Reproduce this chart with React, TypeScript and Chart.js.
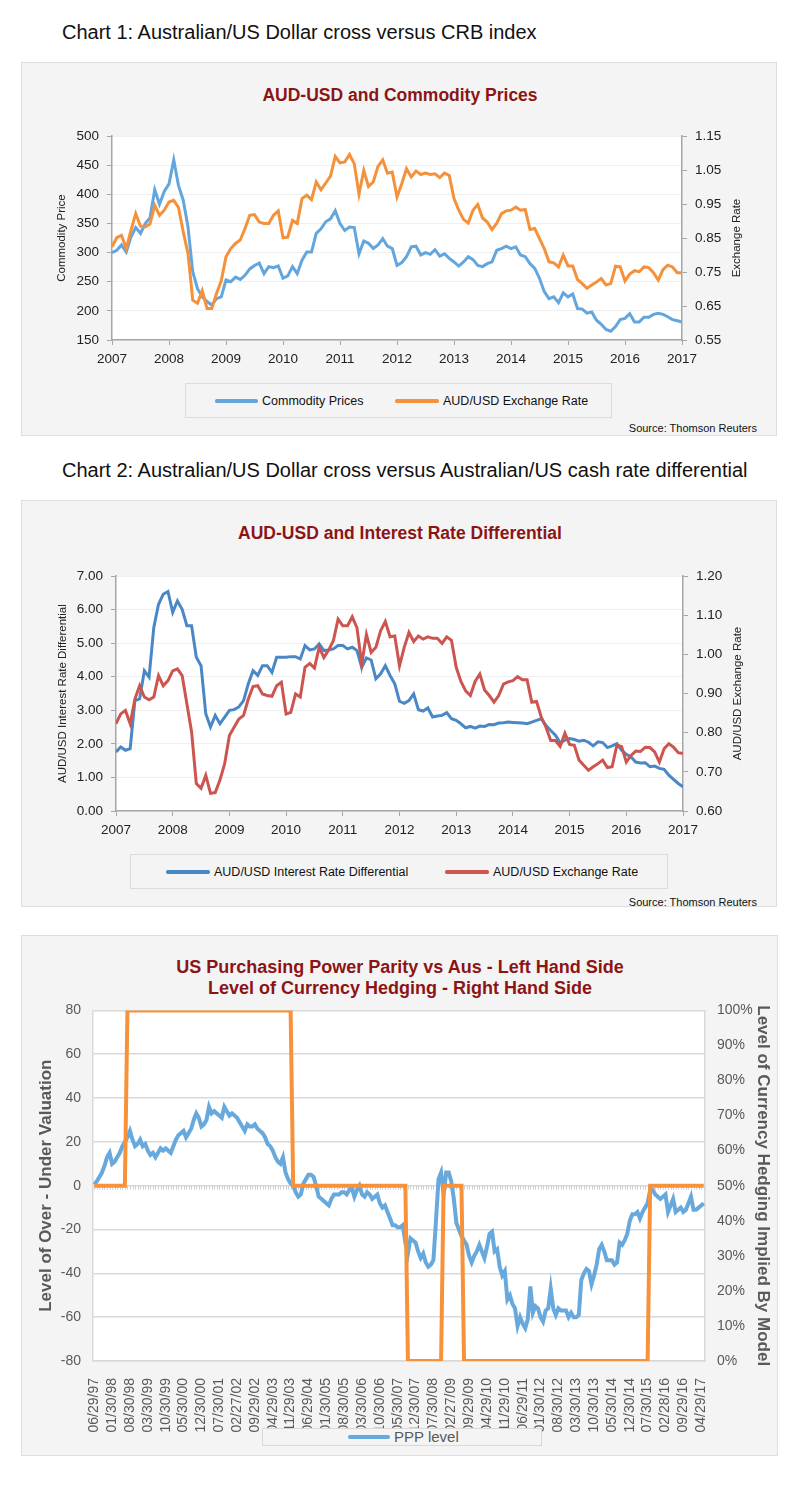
import React, { useEffect, useRef } from 'react';
import { Chart, registerables } from 'chart.js';

Chart.register(...registerables);

const SANS = '"Liberation Sans", Arial, Helvetica, sans-serif';
Chart.defaults.font.family = SANS;

// ---------- Chart 1 & 2 data (monthly, Jan 2007 .. Jan 2017) ----------
const yearLabels = ['2007', '2008', '2009', '2010', '2011', '2012', '2013', '2014', '2015', '2016', '2017'];

const commodityPrices = [
  300, 304, 313, 301, 327, 343, 333, 350, 360, 408, 383, 405,
  418, 459, 415, 390, 344, 267, 238, 224, 216, 210, 221, 224,
  253, 250, 258, 254, 261, 272, 278, 282, 264, 276, 274, 277,
  256, 260, 276, 264, 287, 301, 301, 333, 341, 353, 358, 372,
  350, 338, 344, 343, 298, 320, 316, 307, 313, 324, 311, 307,
  278, 283, 293, 310, 311, 296, 300, 297, 305, 294, 298, 290,
  284, 277, 284, 293, 288, 278, 276, 281, 284, 304, 307, 311,
  307, 310, 296, 293, 281, 273, 256, 233, 221, 224, 214, 231,
  224, 229, 204, 203, 196, 198, 184, 177, 168, 165, 173, 185,
  187, 195, 181, 181, 189, 189, 194, 196, 194, 190, 185, 183,
  181,
];

const audUsdChart1 = [
  0.824, 0.851, 0.858, 0.819, 0.873, 0.922, 0.885, 0.883, 0.891, 0.946, 0.917, 0.932,
  0.956, 0.961, 0.940, 0.868, 0.804, 0.667, 0.658, 0.695, 0.643, 0.643, 0.687, 0.724,
  0.795, 0.819, 0.834, 0.844, 0.878, 0.917, 0.919, 0.897, 0.893, 0.893, 0.917, 0.930,
  0.851, 0.853, 0.902, 0.893, 0.966, 0.976, 0.963, 1.015, 0.992, 1.012, 1.032, 1.090,
  1.071, 1.074, 1.096, 1.069, 0.979, 1.049, 1.002, 1.015, 1.061, 1.080, 1.041, 1.044,
  0.971, 1.010, 1.054, 1.030, 1.047, 1.037, 1.041, 1.037, 1.039, 1.028, 1.041, 1.034,
  0.966, 0.932, 0.905, 0.894, 0.932, 0.949, 0.909, 0.897, 0.875, 0.894, 0.922, 0.930,
  0.932, 0.941, 0.932, 0.934, 0.875, 0.878, 0.848, 0.819, 0.780, 0.777, 0.765, 0.800,
  0.768, 0.768, 0.728, 0.716, 0.702, 0.712, 0.721, 0.731, 0.712, 0.716, 0.767, 0.765,
  0.724, 0.744, 0.754, 0.751, 0.765, 0.763, 0.748, 0.726, 0.757, 0.770, 0.765, 0.748,
  0.748,
];
const exchangeTicks1 = [0.55, 0.65, 0.75, 0.85, 0.95, 1.05, 1.15];

const rateDifferential = [
  1.76, 1.91, 1.81, 1.86, 3.29, 3.34, 4.18, 3.99, 5.47, 6.16, 6.46, 6.54,
  5.92, 6.26, 6.01, 5.52, 5.52, 4.58, 4.33, 2.90, 2.50, 2.85, 2.60, 2.80,
  3.00, 3.02, 3.10, 3.29, 3.79, 4.18, 4.04, 4.33, 4.33, 4.13, 4.58, 4.58,
  4.58, 4.60, 4.60, 4.53, 4.93, 4.80, 4.83, 4.98, 4.78, 4.80, 4.83, 4.93,
  4.93, 4.83, 4.88, 4.78, 4.28, 4.56, 4.50, 3.94, 4.09, 4.33, 4.04, 3.79,
  3.27, 3.21, 3.29, 3.49, 3.02, 2.98, 3.07, 2.80, 2.83, 2.85, 2.93, 2.75,
  2.70, 2.60, 2.48, 2.52, 2.47, 2.53, 2.52, 2.58, 2.57, 2.62, 2.63, 2.65,
  2.64, 2.63, 2.62, 2.60, 2.65, 2.70, 2.75, 2.55, 2.40, 2.26, 2.03, 2.11,
  2.16, 2.13, 2.08, 2.11, 2.05, 1.94, 2.06, 2.04, 1.89, 1.94, 2.01, 1.81,
  1.69, 1.61, 1.46, 1.43, 1.44, 1.32, 1.34, 1.27, 1.24, 1.07, 0.94, 0.82,
  0.72,
];

const audUsdChart2 = [
  0.823, 0.848, 0.857, 0.823, 0.886, 0.920, 0.891, 0.884, 0.891, 0.946, 0.920, 0.933,
  0.958, 0.963, 0.946, 0.874, 0.802, 0.670, 0.658, 0.691, 0.645, 0.647, 0.679, 0.721,
  0.793, 0.814, 0.835, 0.844, 0.886, 0.918, 0.920, 0.899, 0.895, 0.893, 0.920, 0.929,
  0.848, 0.852, 0.899, 0.891, 0.967, 0.977, 0.965, 1.018, 0.992, 1.011, 1.035, 1.090,
  1.073, 1.073, 1.096, 1.068, 0.975, 1.051, 1.005, 1.018, 1.060, 1.084, 1.045, 1.047,
  0.971, 1.018, 1.056, 1.033, 1.047, 1.039, 1.045, 1.041, 1.041, 1.028, 1.045, 1.036,
  0.967, 0.931, 0.907, 0.895, 0.931, 0.950, 0.909, 0.895, 0.878, 0.895, 0.924, 0.930,
  0.933, 0.943, 0.935, 0.935, 0.878, 0.880, 0.840, 0.814, 0.780, 0.780, 0.765, 0.799,
  0.770, 0.768, 0.730, 0.717, 0.704, 0.713, 0.721, 0.730, 0.711, 0.713, 0.768, 0.765,
  0.725, 0.742, 0.753, 0.752, 0.763, 0.762, 0.751, 0.725, 0.759, 0.772, 0.763, 0.749,
  0.747,
];
const exchangeTicks2 = [0.6, 0.7, 0.8, 0.9, 1.0, 1.1, 1.2];

// ---------- Chart 3 data (monthly, Jun 1997 .. May 2017) ----------
const pppTickLabels = [
  '06/29/97', '01/30/98', '08/30/98', '03/30/99', '10/30/99', '05/30/00', '12/30/00',
  '07/30/01', '02/27/02', '09/29/02', '04/29/03', '11/29/03', '06/29/04', '01/30/05',
  '08/30/05', '03/30/06', '10/30/06', '05/30/07', '12/30/07', '07/30/08', '02/27/09',
  '09/29/09', '04/29/10', '11/29/10', '06/29/11', '01/30/12', '08/30/12', '03/30/13',
  '10/30/13', '05/30/14', '12/30/14', '07/30/15', '02/28/16', '09/29/16', '04/29/17',
];

const pppLevel = [
  0.5, 2, 4, 6, 9, 13, 15, 10, 11, 13, 15, 18, 20, 22, 25, 21, 18, 19, 21, 18,
  19, 16, 14, 15, 13, 15, 17, 16, 17, 16, 15, 18, 21, 23, 24, 25, 22, 24, 26, 30,
  33, 31, 27, 28, 30, 36, 33, 34, 33, 32, 31, 36, 34, 32, 33, 32, 31, 29, 27, 25,
  28, 27, 27, 28, 26, 25, 24, 22, 19, 18, 16, 13, 11, 10, 13, 6, 3, 1, 0, -3,
  -5, -4, 1, 3, 5, 5, 4, 0, -5, -6, -7, -8, -9, -6, -4, -4, -4, -3, -3, -4,
  -2, -1, -5, -2, 0, -4, -5, -3, -4, -6, -5, -4, -8, -10, -9, -12, -15, -18, -18, -19,
  -19, -18, -26, -31, -24, -25, -26, -30, -33, -31, -35, -37, -36, -34, -16, 3, 6, -4, 6, 6,
  2, -6, -17, -20, -23, -25, -27, -32, -35, -32, -30, -27, -30, -33, -28, -22, -21, -30, -29, -37,
  -41, -39, -52, -50, -54, -56, -64, -60, -63, -65, -61, -46, -58, -55, -56, -60, -62, -57, -56, -47,
  -56, -59, -56, -57, -57, -57, -60, -58, -60, -60, -59, -43, -40, -38, -39, -45, -41, -36, -29, -27,
  -30, -34, -34, -34, -36, -35, -26, -27, -25, -22, -16, -13, -13, -12, -15, -12, -10, -8, -2, -2,
  -4, -5, -6, -5, -4, -12, -9, -6, -12, -11, -10, -12, -11, -8, -5, -11, -11, -10, -9, -8,
];

// hedging level: month index of each corner of the step line, and its value (%)
const hedgeIdx = [0, 12, 13, 77, 78, 122, 123, 136, 137, 144, 145, 217, 218, 239];
const hedgeVal = [50, 50, 100, 100, 50, 50, 0, 0, 50, 50, 0, 0, 50, 50];

// ---------- plugins ----------
const plotBg = {
  id: 'plotBg',
  beforeDraw(chart: any) {
    const { ctx, chartArea: a } = chart;
    ctx.save();
    ctx.fillStyle = '#ffffff';
    ctx.fillRect(a.left, a.top, a.right - a.left, a.bottom - a.top);
    ctx.restore();
  },
};

const upTitle = {
  id: 'upTitle',
  afterDraw(chart: any, _args: any, opts: any) {
    if (!opts || !opts.text) return;
    const { ctx, chartArea: a } = chart;
    ctx.save();
    ctx.translate(a.right + opts.dx, (a.top + a.bottom) / 2);
    ctx.rotate(-Math.PI / 2);
    ctx.font = `${opts.size}px ${SANS}`;
    ctx.fillStyle = opts.color || '#222';
    ctx.textAlign = 'center';
    ctx.textBaseline = 'middle';
    ctx.fillText(opts.text, 0, 0);
    ctx.restore();
  },
};

const zeroHatch = {
  id: 'zeroHatch',
  beforeDatasetsDraw(chart: any, _args: any, opts: any) {
    if (!opts || !opts.enabled) return;
    const { ctx } = chart;
    const xs = chart.scales.x;
    const ys = chart.scales.y;
    const y0 = ys.getPixelForValue(0);
    ctx.save();
    ctx.strokeStyle = '#cfcfcf';
    ctx.lineWidth = 1;
    ctx.beginPath();
    for (let i = 0; i < pppLevel.length; i++) {
      const px = Math.round(xs.getPixelForValue(i)) + 0.5;
      ctx.moveTo(px, y0);
      ctx.lineTo(px, y0 + 4);
    }
    ctx.stroke();
    ctx.restore();
  },
};

const pts = (arr: number[]) => arr.map((y, i) => ({ x: i, y }));

// ---------- configs ----------
function config1(): any {
  const axisColor = '#a6a6a6';
  const tickFont = { size: 13.5 };
  return {
    type: 'line',
    data: {
      datasets: [
        { label: 'Commodity Prices', data: pts(commodityPrices), yAxisID: 'y', borderColor: '#62a6dd', borderWidth: 3, pointRadius: 0, order: 1 },
        { label: 'AUD/USD Exchange Rate', data: pts(audUsdChart1), yAxisID: 'y1', borderColor: '#f4913a', borderWidth: 3, pointRadius: 0, order: 0 },
      ],
    },
    plugins: [plotBg, upTitle],
    options: {
      animation: false,
      responsive: false,
      layout: { padding: { top: 16, left: 0, right: 0, bottom: 0 } },
      plugins: {
        legend: { display: false },
        tooltip: { enabled: false },
        upTitle: { text: 'Exchange Rate', dx: 55, size: 11.5, color: '#222' },
      },
      scales: {
        x: {
          type: 'linear', min: 0, max: 120,
          afterBuildTicks: (s: any) => { s.ticks = yearLabels.map((_, i) => ({ value: i * 12 })); },
          ticks: { callback: (v: number) => yearLabels[Math.round(v / 12)], font: tickFont, color: '#222', padding: 6, maxRotation: 0, autoSkip: false },
          grid: { drawOnChartArea: false, tickLength: 5, tickColor: axisColor },
          border: { color: axisColor, width: 1.5 },
          afterFit: (s: any) => { s.height = 42; },
        },
        y: {
          position: 'left', min: 150, max: 500,
          ticks: { stepSize: 50, font: tickFont, color: '#222', padding: 8 },
          grid: { color: '#efefef', tickLength: 5, tickColor: axisColor },
          border: { color: axisColor, width: 1.5 },
          title: { display: true, text: 'Commodity Price', font: { size: 11.5 }, color: '#222', padding: { top: 34, bottom: 0 } },
          afterFit: (s: any) => { s.width = 91; },
        },
        y1: {
          position: 'right', min: 0.55, max: 1.15,
          afterBuildTicks: (s: any) => { s.ticks = exchangeTicks1.map((value) => ({ value })); },
          ticks: { callback: (v: number) => v.toFixed(2), font: tickFont, color: '#222', padding: 8 },
          grid: { drawOnChartArea: false, tickLength: 5, tickColor: axisColor },
          border: { color: axisColor, width: 1.5 },
          afterFit: (s: any) => { s.width = 94; },
        },
      },
    },
  };
}

function config2(): any {
  const axisColor = '#a6a6a6';
  const tickFont = { size: 13.5 };
  return {
    type: 'line',
    data: {
      datasets: [
        { label: 'AUD/USD Interest Rate Differential', data: pts(rateDifferential), yAxisID: 'y', borderColor: '#4a87c6', borderWidth: 3, pointRadius: 0, order: 1 },
        { label: 'AUD/USD Exchange Rate', data: pts(audUsdChart2), yAxisID: 'y1', borderColor: '#cc5550', borderWidth: 3, pointRadius: 0, order: 0 },
      ],
    },
    plugins: [plotBg, upTitle],
    options: {
      animation: false,
      responsive: false,
      layout: { padding: { top: 15, left: 0, right: 0, bottom: 0 } },
      plugins: {
        legend: { display: false },
        tooltip: { enabled: false },
        upTitle: { text: 'AUD/USD Exchange Rate', dx: 55, size: 11.5, color: '#222' },
      },
      scales: {
        x: {
          type: 'linear', min: 0, max: 120,
          afterBuildTicks: (s: any) => { s.ticks = yearLabels.map((_, i) => ({ value: i * 12 })); },
          ticks: { callback: (v: number) => yearLabels[Math.round(v / 12)], font: tickFont, color: '#222', padding: 6, maxRotation: 0, autoSkip: false },
          grid: { drawOnChartArea: false, tickLength: 5, tickColor: axisColor },
          border: { color: axisColor, width: 1.5 },
          afterFit: (s: any) => { s.height = 39; },
        },
        y: {
          position: 'left', min: 0, max: 7,
          ticks: { stepSize: 1, callback: (v: number) => v.toFixed(2), font: tickFont, color: '#222', padding: 8 },
          grid: { color: '#efefef', tickLength: 5, tickColor: axisColor },
          border: { color: axisColor, width: 1.5 },
          title: { display: true, text: 'AUD/USD Interest Rate Differential', font: { size: 11.5 }, color: '#222', padding: { top: 35, bottom: 0 } },
          afterFit: (s: any) => { s.width = 95; },
        },
        y1: {
          position: 'right', min: 0.6, max: 1.2,
          afterBuildTicks: (s: any) => { s.ticks = exchangeTicks2.map((value) => ({ value })); },
          ticks: { callback: (v: number) => v.toFixed(2), font: tickFont, color: '#222', padding: 8 },
          grid: { drawOnChartArea: false, tickLength: 5, tickColor: axisColor },
          border: { color: axisColor, width: 1.5 },
          afterFit: (s: any) => { s.width = 93; },
        },
      },
    },
  };
}

function config3(): any {
  const gray = '#595959';
  const gridColor = '#d9d9d9';
  const tickFont = { size: 14 };
  return {
    type: 'line',
    data: {
      datasets: [
        { label: 'PPP level', data: pts(pppLevel), yAxisID: 'y', borderColor: '#67a9dd', borderWidth: 4, pointRadius: 0, order: 1 },
        { label: 'Hedging', data: hedgeIdx.map((x, k) => ({ x, y: hedgeVal[k] })), yAxisID: 'y2', borderColor: '#f7923a', borderWidth: 4, pointRadius: 0, order: 0 },
      ],
    },
    plugins: [plotBg, zeroHatch],
    options: {
      animation: false,
      responsive: false,
      layout: { padding: { top: 13, left: 0, right: 0, bottom: 0 } },
      plugins: {
        legend: { display: false },
        tooltip: { enabled: false },
        zeroHatch: { enabled: true },
      },
      scales: {
        x: {
          type: 'linear', min: -0.5, max: 239.5,
          afterBuildTicks: (s: any) => { s.ticks = pppTickLabels.map((_, i) => ({ value: i * 7 })); },
          ticks: { callback: (v: number) => pppTickLabels[Math.round(v / 7)], font: { size: 14 }, color: gray, padding: 9, minRotation: 90, maxRotation: 90, autoSkip: false },
          grid: { display: false },
          border: { color: gridColor, width: 1.5 },
          afterFit: (s: any) => { s.height = 84; },
        },
        y: {
          position: 'left', min: -80, max: 80,
          ticks: { stepSize: 20, font: tickFont, color: gray, padding: 12 },
          grid: { color: gridColor, lineWidth: 1.5, drawTicks: false },
          border: { color: gridColor, width: 1.5 },
          title: { display: true, text: 'Level of Over - Under Valuation', font: { size: 17, weight: 'bold' }, color: gray, padding: { top: 15, bottom: 0 } },
          afterFit: (s: any) => { s.width = 72; },
        },
        y2: {
          position: 'right', min: 0, max: 100,
          ticks: { stepSize: 10, callback: (v: number) => v + '%', font: tickFont, color: gray, padding: 12 },
          grid: { display: false, drawTicks: false },
          border: { color: gridColor, width: 1.5 },
          title: { display: true, text: 'Level of Currency Hedging Implied By Model', font: { size: 17, weight: 'bold' }, color: gray, padding: { top: 4, bottom: 0 } },
          afterFit: (s: any) => { s.width = 72; },
        },
      },
    },
  };
}

// ---------- components ----------
function ChartCanvas({ make, left, top, width, height }: { make: () => any; left: number; top: number; width: number; height: number }) {
  const ref = useRef<HTMLCanvasElement>(null);
  useEffect(() => {
    const chart = new Chart(ref.current as HTMLCanvasElement, make());
    return () => chart.destroy();
  }, []);
  return (
    <canvas
      ref={ref}
      width={width}
      height={height}
      style={{ position: 'absolute', left, top, width, height }}
    />
  );
}

function Text({ x, y, size, children, bold, color, align, width }: any) {
  const style: any = {
    position: 'absolute',
    top: y,
    transform: 'translateY(-50%)',
    fontSize: size,
    lineHeight: 1.15,
    fontWeight: bold ? 'bold' : 'normal',
    color: color || '#111',
    whiteSpace: 'nowrap',
    fontFamily: SANS,
  };
  if (align === 'center') {
    style.left = x - width / 2;
    style.width = width;
    style.textAlign = 'center';
  } else if (align === 'right') {
    style.left = x - width;
    style.width = width;
    style.textAlign = 'right';
  } else {
    style.left = x;
  }
  return <div style={style}>{children}</div>;
}

function Panel({ left, top, width, height }: any) {
  return (
    <div
      style={{
        position: 'absolute', left, top, width, height, boxSizing: 'border-box',
        background: '#f4f4f4', border: '1px solid #dedede',
      }}
    />
  );
}

function LegendItem({ x, y, lineW, color, thick, label, size, textColor }: any) {
  return (
    <>
      <div style={{ position: 'absolute', left: x, top: y - thick / 2, width: lineW, height: thick, background: color, borderRadius: thick / 2 }} />
      <Text x={x + lineW + 4} y={y} size={size} color={textColor}>{label}</Text>
    </>
  );
}

export default function App() {
  const darkRed = '#8c1414';
  return (
    <div style={{ position: 'absolute', left: 0, top: 0, width: 800, height: 1489, background: '#ffffff', overflow: 'hidden', fontFamily: SANS }}>
      {/* ---- Chart 1 ---- */}
      <Text x={62} y={32} size={20}>Chart 1: Australian/US Dollar cross versus CRB index</Text>
      <Panel left={21} top={62} width={756} height={374} />
      <Text x={400} y={95} size={17.5} bold color={darkRed} align="center" width={600}>AUD-USD and Commodity Prices</Text>
      <ChartCanvas make={config1} left={21} top={120} width={755} height={262} />
      <div style={{ position: 'absolute', left: 185, top: 383, width: 427, height: 35, boxSizing: 'border-box', border: '1px solid #dcdcdc', background: '#f4f4f4' }} />
      <LegendItem x={215} y={401} lineW={43} thick={3.5} color="#62a6dd" label="Commodity Prices" size={12.5} textColor="#111" />
      <LegendItem x={395} y={401} lineW={44} thick={3.5} color="#f4913a" label="AUD/USD Exchange Rate" size={12.5} textColor="#111" />
      <Text x={757} y={428} size={11} align="right" width={300}>Source: Thomson Reuters</Text>

      {/* ---- Chart 2 ---- */}
      <Text x={62} y={470} size={20}>Chart 2: Australian/US Dollar cross versus Australian/US cash rate differential</Text>
      <Panel left={21} top={500} width={756} height={407} />
      <Text x={400} y={533} size={17.5} bold color={darkRed} align="center" width={600}>AUD-USD and Interest Rate Differential</Text>
      <ChartCanvas make={config2} left={21} top={560} width={755} height={290} />
      <div style={{ position: 'absolute', left: 130, top: 854, width: 538, height: 35, boxSizing: 'border-box', border: '1px solid #dcdcdc', background: '#f4f4f4' }} />
      <LegendItem x={166} y={872} lineW={44} thick={3.5} color="#4a87c6" label="AUD/USD Interest Rate Differential" size={12.5} textColor="#111" />
      <LegendItem x={445} y={872} lineW={44} thick={3.5} color="#cc5550" label="AUD/USD Exchange Rate" size={12.5} textColor="#111" />
      <Text x={757} y={902} size={11} align="right" width={300}>Source: Thomson Reuters</Text>

      {/* ---- Chart 3 ---- */}
      <Panel left={21} top={935} width={757} height={521} />
      <Text x={400} y={967} size={18} bold color={darkRed} align="center" width={700}>US Purchasing Power Parity vs Aus - Left Hand Side</Text>
      <Text x={400} y={988} size={18} bold color={darkRed} align="center" width={700}>Level of Currency Hedging - Right Hand Side</Text>
      <ChartCanvas make={config3} left={21} top={990} width={756} height={455} />
      <div style={{ position: 'absolute', left: 262, top: 1428, width: 280, height: 18, boxSizing: 'border-box', border: '1px solid #d9d9d9', background: '#f4f4f4' }} />
      <LegendItem x={348} y={1437} lineW={42} thick={4} color="#67a9dd" label="PPP level" size={15} textColor="#595959" />
    </div>
  );
}
